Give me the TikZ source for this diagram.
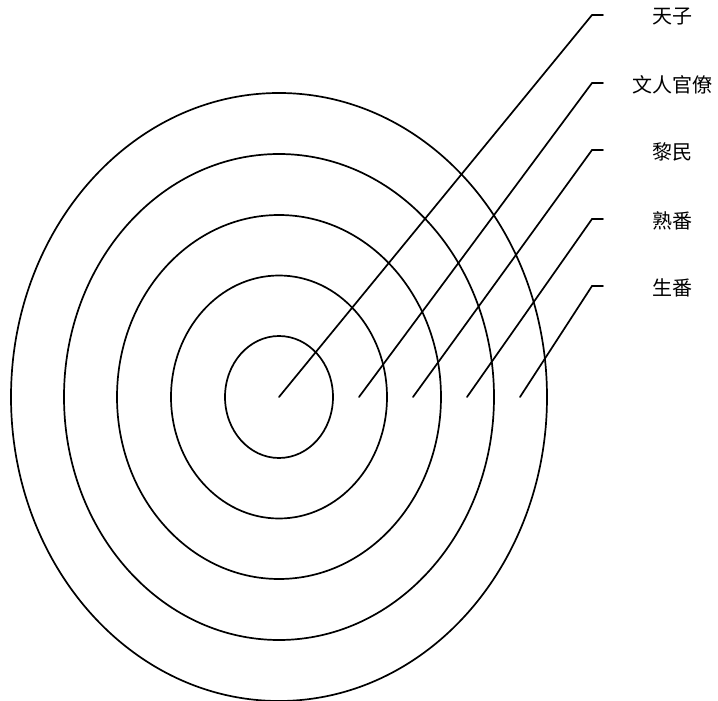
\documentclass[tikz,border=0pt]{standalone}
\usepackage{fontspec}
\newfontfamily\cjk{Noto Sans CJK SC}
\usepackage{tikz}

\begin{document}
\begin{tikzpicture}[x=0.5pt,y=-0.5pt,cap=round,line width=0.85pt,every node/.style={font=\cjk\fontsize{10}{12}\selectfont}]
			\useasboundingbox (0,0) rectangle (718,701);
			\coordinate (c) at (279,397);
			% rings
			\foreach \rx/\ry in {54/61, 108/121.5, 162/182, 215/243, 268/304}
			\draw (c) ellipse [x radius=\rx, y radius=\ry];
			% leaders and names
			\foreach \n/\sx/\ky/\t in {1/279/15/天子, 2/359/83/文人官僚, 3/413/150/黎民, 4/467/219/熟番, 5/520/286/生番}{
			\coordinate (s\n) at (\sx,397);
			\coordinate (k\n) at (592,\ky);
			\node (t\n) at (672,\ky+2) {\t};
			\draw (s\n) -- (k\n) -- ++(11,0);
			}
		\end{tikzpicture}
\end{document}
